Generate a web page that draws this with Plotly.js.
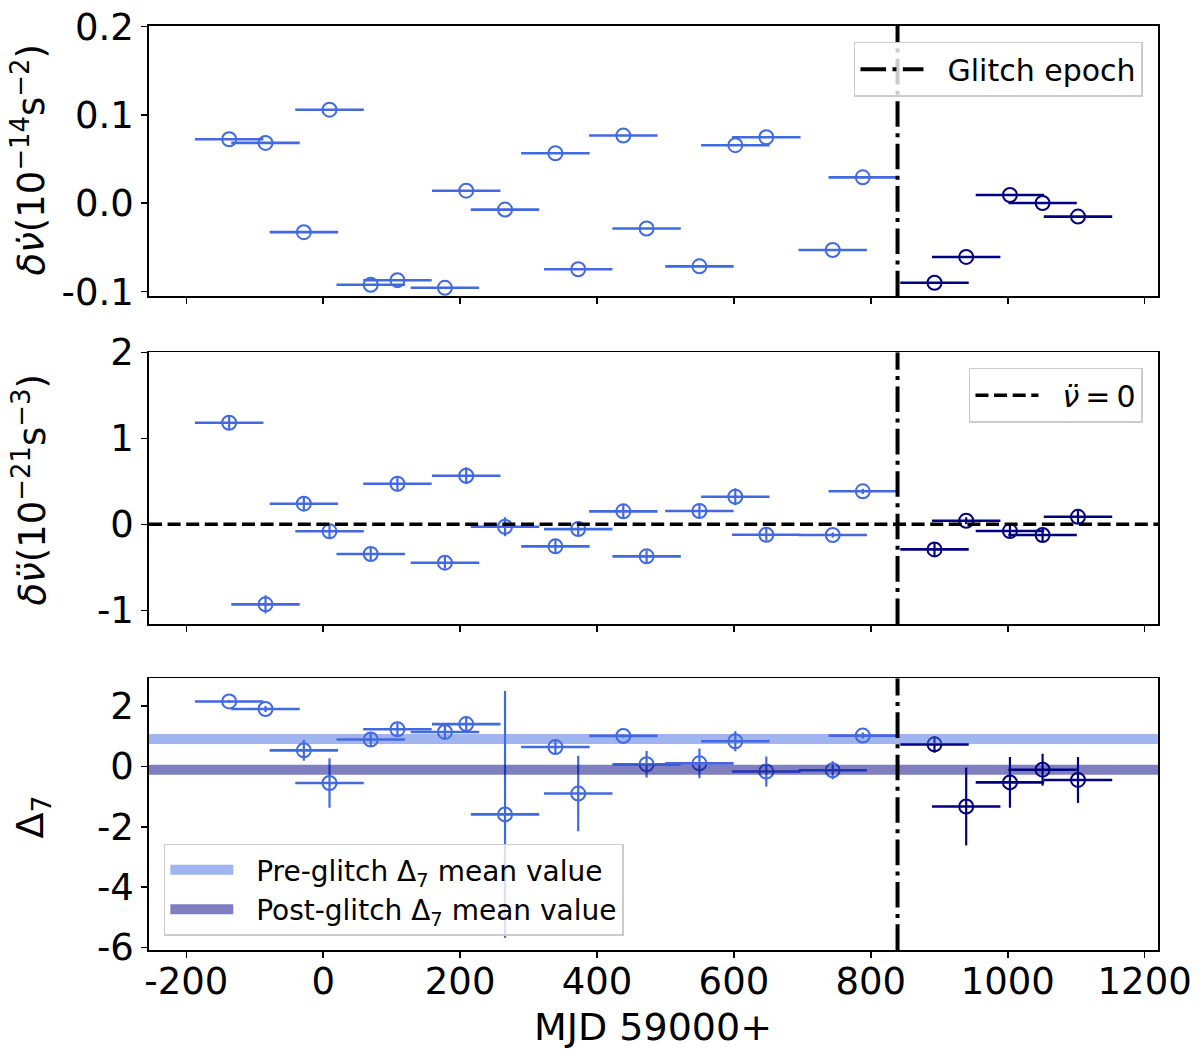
<!DOCTYPE html>
<html>
<head>
<meta charset="utf-8">
<script src="https://cdn.plot.ly/plotly-3.0.1.min.js"></script>
<style>html,body{margin:0;padding:0;background:#fff;}#chart{width:1200px;height:1052px;}</style>
</head>
<body>
<div id="chart"></div>
<script>
// ---- data ----
const glitchEpoch = 839;
const preX  = [-137.4,-84.3,-28.3,9.2,69.4,108.4,177.8,208.9,265.6,339.2,372.5,438.4,472.4,549.6,602.0,647.3,744.3,788.2];
const postX = [893.0,939.3,1003.2,1050.9,1102.6];
const preXErr  = [50,50,50,50,50,50,50,50,50,50,50,50,50,50,50,50,50,50];
const postXErr = [50,50,50,50,50];

const f1Pre  = [0.0724,0.0683,-0.0327,0.1059,-0.0923,-0.0871,-0.0957,0.0142,-0.0072,0.0566,-0.0747,0.0766,-0.0286,-0.0714,0.0657,0.0747,-0.0529,0.0293];
const f1Post = [-0.0900,-0.0608,0.0093,0.0003,-0.0151];

const f2Pre     = [1.181,-0.930,0.240,-0.081,-0.345,0.472,-0.446,0.565,-0.028,-0.256,-0.055,0.151,-0.372,0.155,0.321,-0.121,-0.124,0.384];
const f2PreErr  = [0.08,0.105,0.08,0.08,0.08,0.09,0.07,0.10,0.11,0.08,0.08,0.08,0.07,0.08,0.10,0.07,0.03,0.03];
const f2Post    = [-0.291,0.042,-0.078,-0.124,0.088];
const f2PostErr = [0.08,0.04,0.08,0.08,0.08];

const d7Pre     = [2.15,1.90,0.53,-0.55,0.89,1.23,1.14,1.40,-1.59,0.64,-0.90,1.01,0.07,0.10,0.83,-0.17,-0.13,1.02];
const d7PreErr  = [0.05,0.10,0.34,0.82,0.23,0.20,0.20,0.22,4.09,0.20,1.25,0.05,0.44,0.49,0.33,0.50,0.30,0.10];
const d7Post    = [0.73,-1.33,-0.53,-0.11,-0.45];
const d7PostErr = [0.28,1.29,0.84,0.53,0.76];
const preMean  = 0.91;
const postMean = -0.11;

const xTicks = [-200,0,200,400,600,800,1000,1200];
const xTickText = ['-200','0','200','400','600','800','1000','1200'];
const y1Ticks = [-0.1,0,0.1,0.2];
const y1TickText = ['-0.1','0.0','0.1','0.2'];
const y2Ticks = [-1,0,1,2];
const y2TickText = ['-1','0','1','2'];
const y3Ticks = [-6,-4,-2,0,2];
const y3TickText = ['-6','-4','-2','0','2'];

// ---- styling ----
const preColor = '#4169e1';
const postColor = '#000080';
const FONT = 'DejaVu Sans';
const TICK = 37;
const GAP = '\u00a0\u00a0';
const xRange = [-254.5, 1219.5];
const y1Range = [-0.1055, 0.201];
const y2Range = [-1.159, 2.0];
const y3Range = [-6.08, 2.916];

function pts(x, y, xe, ye, color, xa, ya) {
  const t = {
    type: 'scatter', mode: 'markers', x: x, y: y, xaxis: xa, yaxis: ya,
    showlegend: false, hoverinfo: 'skip',
    marker: {symbol: 'circle-open', size: 14, color: color, line: {width: 2, color: color}},
    error_x: {type: 'data', array: xe, width: 0, thickness: 2.6, color: color}
  };
  if (ye) t.error_y = {type: 'data', array: ye, width: 0, thickness: 2.2, color: color};
  return t;
}

const traces = [];
traces.push(pts(preX, f1Pre, preXErr, null, preColor, 'x', 'y'));
traces.push(pts(postX, f1Post, postXErr, null, postColor, 'x', 'y'));
traces.push(pts(preX, f2Pre, preXErr, f2PreErr, preColor, 'x2', 'y2'));
traces.push(pts(postX, f2Post, postXErr, f2PostErr, postColor, 'x2', 'y2'));
traces.push(pts(preX, d7Pre, preXErr, d7PreErr, preColor, 'x3', 'y3'));
traces.push(pts(postX, d7Post, postXErr, d7PostErr, postColor, 'x3', 'y3'));

traces.push({type:'scatter', mode:'lines', x: xRange, y: [0,0], xaxis:'x2', yaxis:'y2',
  name: GAP + '<i>ν̈</i>\u2009=\u20090', legend: 'legend2', hoverinfo:'skip',
  line: {color:'black', width: 3.5, dash: '13px,5.6px'}});

traces.push({type:'scatter', mode:'lines', x: xRange, y: [preMean, preMean], xaxis:'x3', yaxis:'y3',
  name: GAP + 'Pre-glitch Δ<sub>7</sub> mean value', legend: 'legend3', hoverinfo:'skip',
  line: {color:'rgba(65,105,225,0.5)', width: 10}});
traces.push({type:'scatter', mode:'lines', x: xRange, y: [postMean, postMean], xaxis:'x3', yaxis:'y3',
  name: GAP + 'Post-glitch Δ<sub>7</sub> mean value', legend: 'legend3', hoverinfo:'skip',
  line: {color:'rgba(0,0,128,0.5)', width: 10}});

const gl = [['x','y',y1Range,true],['x2','y2',y2Range,false],['x3','y3',y3Range,false]];
gl.forEach(function(g){
  traces.push({type:'scatter', mode:'lines', x:[glitchEpoch, glitchEpoch], y:[g[2][0], g[2][1]],
    xaxis:g[0], yaxis:g[1], name: GAP + 'Glitch epoch', showlegend:g[3], legend:'legend', hoverinfo:'skip',
    line:{color:'black', width:4, dash:'25.6px,6.4px,4px,6.4px'}});
});

function xax(anchor, labels) {
  return {range: xRange, anchor: anchor, domain:[0,1], showgrid:false, zeroline:false,
    showline:true, linecolor:'black', linewidth:1.8, mirror:true,
    ticks:'outside', ticklen:6, tickwidth:1.6, tickcolor:'black',
    tickvals: xTicks, ticktext: xTickText, showticklabels: labels, ticklabelstandoff: -8,
    tickfont:{family:FONT, size:TICK, color:'black'}};
}
function yax(range, dom, tv, tt, anchor) {
  return {range: range, domain: dom, anchor: anchor, showgrid:false, zeroline:false,
    showline:true, linecolor:'black', linewidth:1.8, mirror:true,
    ticks:'outside', ticklen:6, tickwidth:1.6, tickcolor:'black',
    tickvals: tv, ticktext: tt, tickfont:{family:FONT, size:TICK, color:'black'}};
}

const legendBase = {bgcolor:'rgba(255,255,255,0.8)', bordercolor:'#cccccc', borderwidth:1.5,
  font:{family:FONT, size:30, color:'black'}, itemwidth:63};

// plot area: x 148.5..1158 px, y 0..1052 px
const layout = {
  width:1200, height:1052,
  margin:{l:148.5, r:42, t:0, b:0},
  paper_bgcolor:'white', plot_bgcolor:'white',
  font:{family:FONT, color:'black'},
  xaxis: xax('y', false),
  xaxis2: xax('y2', false),
  xaxis3: xax('y3', true),
  yaxis: yax(y1Range, [0.7182, 0.9756], y1Ticks, y1TickText, 'x'),
  yaxis2: yax(y2Range, [0.4068, 0.6651], y2Ticks, y2TickText, 'x2'),
  yaxis3: yax(y3Range, [0.0970, 0.3552], y3Ticks, y3TickText, 'x3'),
  legend: Object.assign({}, legendBase, {x:0.9851, y:0.9604, xanchor:'right', yanchor:'top'}),
  legend2: Object.assign({}, legendBase, {x:0.9851, y:0.6505, xanchor:'right', yanchor:'top'}),
  legend3: Object.assign({}, legendBase, {x:0.0147, y:0.1106, xanchor:'left', yanchor:'bottom', font:{family:FONT, size:28, color:'black'}}),
  annotations: [
    {text:'<i>δν̇</i>(10<sup>−14</sup>s<sup>−2</sup>)', xref:'paper', yref:'paper', x:-0.1184, y:0.848,
     textangle:-90, showarrow:false, xanchor:'center', yanchor:'middle', font:{family:FONT, size:37, color:'black'}},
    {text:'<i>δν̈</i>(10<sup>−21</sup>s<sup>−3</sup>)', xref:'paper', yref:'paper', x:-0.1184, y:0.5342,
     textangle:-90, showarrow:false, xanchor:'center', yanchor:'middle', font:{family:FONT, size:37, color:'black'}},
    {text:'Δ<sub>7</sub>', xref:'paper', yref:'paper', x:-0.1154, y:0.2234,
     textangle:-90, showarrow:false, xanchor:'center', yanchor:'middle', font:{family:FONT, size:38, color:'black'}},
    {text:'MJD 59000+', xref:'paper', yref:'paper', x:0.4998, y:0.0238,
     showarrow:false, xanchor:'center', yanchor:'middle', font:{family:FONT, size:38, color:'black'}}
  ]
};

Plotly.newPlot('chart', traces, layout, {staticPlot:true, displayModeBar:false});
</script>
</body>
</html>
